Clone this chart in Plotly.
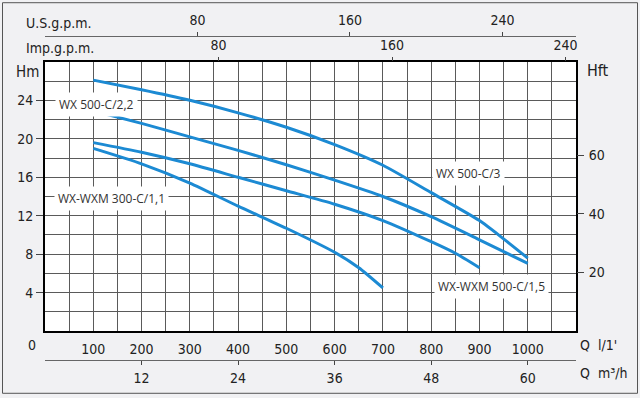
import plotly.graph_objects as go

# ---- data (Q in l/min, H in m) ----
q_c3 = [100, 200, 300, 400, 500, 600, 700, 800, 900, 950, 1000]
h_c3 = [26.1, 25.1, 24.0, 22.7, 21.2, 19.4, 17.25, 14.4, 11.5, 9.6, 7.6]

q_c22 = [115, 200, 300, 400, 500, 600, 700, 800, 900, 1000]
h_c22 = [22.7, 21.6, 20.2, 18.8, 17.3, 15.7, 14.0, 11.9, 9.5, 7.05]

q_c15 = [100, 200, 300, 400, 500, 600, 700, 800, 850, 900]
h_c15 = [19.6, 18.6, 17.4, 16.0, 14.6, 13.2, 11.5, 9.3, 8.1, 6.6]

q_c11 = [100, 200, 300, 400, 500, 600, 650, 700]
h_c11 = [19.0, 17.4, 15.4, 13.0, 10.7, 8.2, 6.6, 4.5]

series_names = ["WX 500-C/3", "WX 500-C/2,2", "WX-WXM 500-C/1,5", "WX-WXM 300-C/1,1"]

q_ticks = [100, 200, 300, 400, 500, 600, 700, 800, 900, 1000]
h_ticks = [4, 8, 12, 16, 20, 24]
hft_ticks = [20, 40, 60]
m3h_ticks = [12, 24, 36, 48, 60]
usgpm_ticks = [80, 160, 240]
impgpm_ticks = [80, 160, 240]

Q_MAX = 1100
H_MAX = 28
USGPM_MAX = 278.6
IMPGPM_MAX = 244.8
M3H_MAX = 66
HFT_MAX = 28 / 0.3048

BLUE = "#1c8ad3"
TFONT = "Liberation Sans Narrow, DejaVu Sans Condensed, sans-serif"
LFONT = "Open Sans, Noto Sans, sans-serif"
TCOL = "#222222"

fig = go.Figure()
for q, h, n in [(q_c3, h_c3, series_names[0]), (q_c22, h_c22, series_names[1]),
                (q_c15, h_c15, series_names[2]), (q_c11, h_c11, series_names[3])]:
    fig.add_trace(go.Scatter(x=q, y=h, mode="lines", name=n,
                             line=dict(color=BLUE, width=3, shape="spline", smoothing=0.6),
                             xaxis="x", yaxis="y", showlegend=False, hoverinfo="skip"))

# dummy traces to activate secondary axes
fig.add_trace(go.Scatter(x=[None], y=[None], xaxis="x", yaxis="y2", showlegend=False))
fig.add_trace(go.Scatter(x=[None], y=[None], xaxis="x2", yaxis="y", showlegend=False))
fig.add_trace(go.Scatter(x=[None], y=[None], xaxis="x3", yaxis="y", showlegend=False))
fig.add_trace(go.Scatter(x=[None], y=[None], xaxis="x4", yaxis="y", showlegend=False))

W, H = 640, 398
ml, mr, mt, mb = 45, 64, 36, 36
paper_h = H - mt - mb
y_top_px, y_bot_px = 62, 333
dom = [(H - mb - y_bot_px) / paper_h, (H - mb - y_top_px) / paper_h]

GRID = "#5a5a5a"
tickfont = dict(family=TFONT, size=14, color=TCOL)

fig.update_layout(
    width=W, height=H,
    margin=dict(l=ml, r=mr, t=mt, b=mb, pad=0),
    paper_bgcolor="#f1f1f3",
    plot_bgcolor="white",
    xaxis=dict(range=[0, Q_MAX], tickvals=q_ticks, ticktext=[str(v) for v in q_ticks],
               showgrid=True, gridcolor=GRID, gridwidth=1,
               minor=dict(dtick=50, tick0=0, showgrid=True, gridcolor=GRID, gridwidth=1),
               ticks="", tickfont=tickfont, ticklabelstandoff=4,
               showline=True, linecolor="black", linewidth=2, mirror=True,
               zeroline=False, fixedrange=True),
    yaxis=dict(range=[0, H_MAX], domain=dom, tickvals=h_ticks,
               showgrid=True, gridcolor=GRID, gridwidth=1,
               minor=dict(dtick=2, tick0=0, showgrid=True, gridcolor=GRID, gridwidth=1),
               ticks="outside", ticklen=7, tickcolor="#444", tickwidth=1,
               tickfont=tickfont, ticklabelstandoff=0,
               showline=True, linecolor="black", linewidth=2, mirror=True,
               zeroline=False, fixedrange=True),
    yaxis2=dict(range=[0, HFT_MAX], overlaying="y", side="right", anchor="x",
                tickvals=hft_ticks, ticks="outside", ticklen=7, tickcolor="#444",
                tickfont=tickfont, ticklabelstandoff=2, showgrid=False, zeroline=False,
                showline=False, fixedrange=True),
    xaxis2=dict(range=[0, USGPM_MAX], overlaying="x", anchor="free", position=1, side="top",
                tickvals=usgpm_ticks, ticks="outside", ticklen=4, tickcolor="#444",
                tickfont=tickfont, ticklabelstandoff=1,
                showline=True, linecolor="#666", linewidth=1, showgrid=False,
                zeroline=False, fixedrange=True),
    xaxis4=dict(range=[0, IMPGPM_MAX], overlaying="x", anchor="y", side="top",
                tickvals=impgpm_ticks, ticks="outside", ticklen=4, tickcolor="#444",
                tickfont=tickfont, ticklabelstandoff=1,
                showline=False, showgrid=False, zeroline=False, fixedrange=True),
    xaxis3=dict(range=[0, M3H_MAX], overlaying="x", anchor="free", position=0, side="bottom",
                tickvals=m3h_ticks, ticks="outside", ticklen=4, tickcolor="#444",
                tickfont=tickfont, ticklabelstandoff=1,
                showline=True, linecolor="#666", linewidth=1, showgrid=False,
                zeroline=False, fixedrange=True),
)

# outer frame
def px_x(p):
    return (p - ml) / (W - ml - mr)

def px_y(p):
    return (H - mb - p) / paper_h

fig.add_shape(type="rect", xref="paper", yref="paper",
              x0=px_x(2.5), x1=px_x(637.5), y0=px_y(395.5), y1=px_y(2.5),
              line=dict(color="#555", width=1), layer="below")

def text(t, x, y, size=14, anchor="center", font=TFONT, bg=None):
    fig.add_annotation(text=t, xref="paper", yref="paper", x=px_x(x), y=px_y(y),
                       xanchor=anchor, yanchor="middle", showarrow=False,
                       font=dict(family=font, size=size, color=TCOL),
                       bgcolor=bg, borderpad=2)

text("U.S.g.p.m.", 23, 23, anchor="left")
text("Imp.g.p.m.", 23, 48, anchor="left")
text("Hm", 42, 72, size=15, anchor="right")
text("Hft", 584, 71, size=16, anchor="left")
text("0", 32, 347)
text("Q  l/1'", 577, 347, anchor="left")
text("Q  m³/h", 577, 375, anchor="left")

# curve labels
LC = "#333333"
def clabel(t, x, y, anchor="left"):
    fig.add_annotation(text=t, xref="paper", yref="paper", x=px_x(x), y=px_y(y),
                       xanchor=anchor, yanchor="middle", showarrow=False,
                       font=dict(family=LFONT, size=12, color=LC),
                       bgcolor="white", borderpad=3)

clabel(series_names[1], 55, 105)
clabel(series_names[3], 54, 200)
clabel(series_names[0], 432, 174)
clabel(series_names[2], 434, 288)

fig.write_html("out.html", config={"displayModeBar": False},
               post_script="document.body.style.margin='0';document.body.style.overflow='hidden';")
